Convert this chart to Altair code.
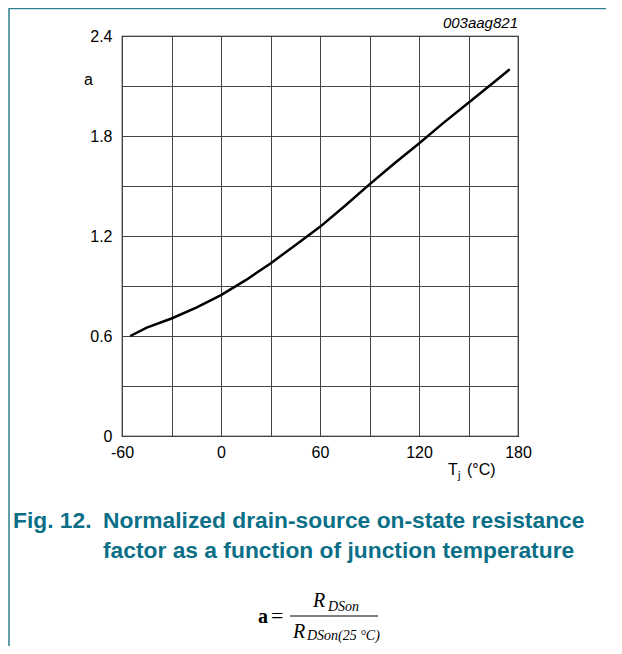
import altair as alt
import pandas as pd

# Curve
temp_c = [-55, -45, -30, -15, 0, 15, 30, 45, 60, 75, 90, 105, 120, 135, 150, 165, 175]
factor_a = [0.60, 0.65, 0.705, 0.77, 0.845, 0.935, 1.035, 1.145, 1.255, 1.38, 1.51, 1.635, 1.755, 1.88, 2.0, 2.12, 2.2]

x_ticks = [-60, -30, 0, 30, 60, 90, 120, 150, 180]
y_ticks = [0, 0.3, 0.6, 0.9, 1.2, 1.5, 1.8, 2.1, 2.4]

fig_number = "Fig. 12."
title_line1 = "Normalized drain-source on-state resistance"
title_line2 = "factor as a function of junction temperature"
figure_code = "003aag821"

TEAL = "#0b6f87"
FONT = "Liberation Sans"
SERIF = "Liberation Serif"

df = pd.DataFrame({"T": temp_c, "a": factor_a})
one = alt.Data(values=[{}])

line = alt.Chart(df).mark_line(color="black", strokeWidth=2.5).encode(
    x=alt.X("T:Q", scale=alt.Scale(domain=[-60, 180], nice=False, zero=False),
            axis=alt.Axis(values=x_ticks, title=None, grid=True, ticks=False, domain=False,
                          labelExpr="datum.value % 60 == 0 ? toString(datum.value) : ''",
                          labelPadding=8, labelFlush=False, labelOverlap=False)),
    y=alt.Y("a:Q", scale=alt.Scale(domain=[0, 2.4], nice=False, zero=False),
            axis=alt.Axis(values=y_ticks, title=None, grid=True, ticks=False, domain=False,
                          labelExpr="abs(datum.value/0.6 - round(datum.value/0.6)) < 0.001 ? datum.label : ''",
                          format=".1~f", labelPadding=10, labelFlush=False, labelOverlap=False)),
)


def txt(s, x, y, size=16, color="black", font=FONT, weight="normal", style="normal", align="left"):
    return alt.Chart(one).mark_text(
        text=s, fontSize=size, color=color, font=font, fontWeight=weight,
        fontStyle=style, align=align, baseline="middle"
    ).encode(x=alt.value(x), y=alt.value(y))


def rule(x, x2, y, y2, color, width):
    return alt.Chart(one).mark_rule(color=color, strokeWidth=width).encode(
        x=alt.value(x), x2=alt.value(x2), y=alt.value(y), y2=alt.value(y2))


layers = [
    line,
    txt(figure_code, 396, -13, size=15, style="italic", align="right"),
    txt("a", -38, 44, size=16),
    txt("T", 326, 434, size=16),
    txt("j", 336, 440, size=11),
    txt("(°C)", 345, 434, size=16),
    txt(fig_number, -109, 485, size=22.8, color=TEAL, weight="bold"),
    txt(title_line1, -19, 485, size=22.8, color=TEAL, weight="bold"),
    txt(title_line2, -19, 515, size=22.8, color=TEAL, weight="bold"),
    # formula a = R_DSon / R_DSon(25 °C)
    txt("a", 136, 581, size=20, font=SERIF, weight="bold"),
    txt("=", 149, 580, size=22, font=SERIF),
    txt("R", 191, 565, size=20, font=SERIF, style="italic"),
    txt("DSon", 206, 571, size=14, font=SERIF, style="italic"),
    rule(168, 256, 580, 580, "black", 1.2),
    txt("R", 171, 596, size=20, font=SERIF, style="italic"),
    txt("DSon(25 °C)", 185, 600, size=14, font=SERIF, style="italic"),
    # page frame
    rule(-113, -113, -28, 610, "#2f8091", 1.5),
    rule(-113, 484, -27.5, -27.5, "#2f8091", 1.5),
]

chart = alt.layer(*layers).properties(
    width=396, height=400,
    padding={"left": 114, "top": 28, "right": 96, "bottom": 210},
    autosize=alt.AutoSizeParams(type="none"),
).configure_view(stroke="black", strokeWidth=1.2).configure_axis(
    gridColor="#444444", gridWidth=1, gridOpacity=1,
    labelFont=FONT, labelFontSize=16, labelColor="black",
)

chart.save("out.html", embed_options={"renderer": "svg", "actions": False})
